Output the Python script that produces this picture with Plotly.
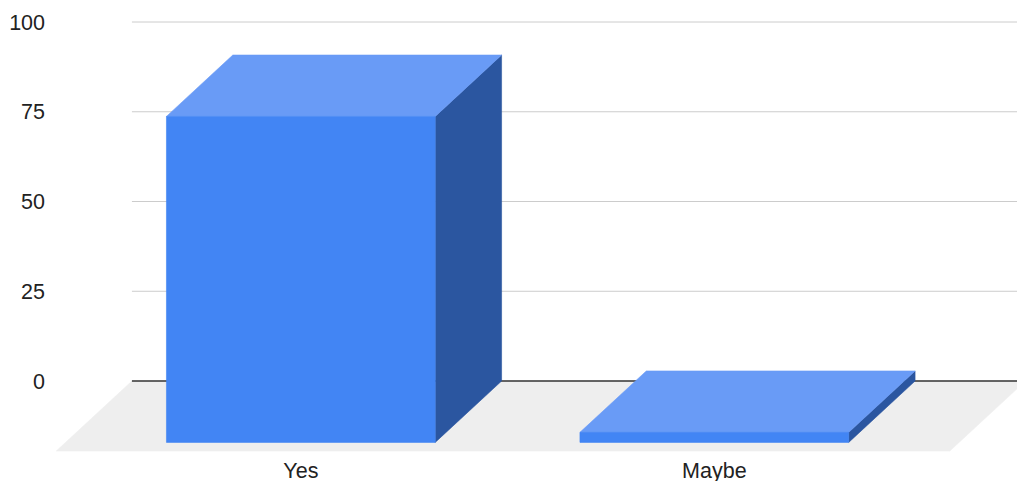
import plotly.graph_objects as go

# Survey answers
categories = ["Yes", "Maybe"]
values = [90.8, 2.8]
y_ticks = [0, 25, 50, 75, 100]

# Colours of the three visible faces and of the floor
FRONT = "#4285F4"
TOP = "#699BF6"
SIDE = "#2B56A0"
FLOOR = "#EEEEEE"
GRID = "#CCCCCC"
BASE = "#333333"
TEXT = "#222222"
FONT = "Liberation Sans, Arial, sans-serif"

# Oblique projection: a point at depth d (0 = back wall, 1 = front of floor)
# is shifted left by d*DX category units and down by d*DY value units.
DX = 0.183
DY = 19.5
BAR_DEPTH = 0.877      # bars stand on the back part of the floor
BAR_WIDTH = 0.65
WALL_LEFT, WALL_RIGHT = -0.569, 1.592

MARGIN_L = 46
X_RANGE = [-0.568 - (132.3 - MARGIN_L) / 413.3, 1.5715]
Y_RANGE = [-20.61, 106.13]


def proj(x, v, d):
    return x - d * DX, v - d * DY


def polygon(points, color):
    xs = [p[0] for p in points] + [points[0][0]]
    ys = [p[1] for p in points] + [points[0][1]]
    return go.Scatter(x=xs, y=ys, mode="lines", fill="toself", fillcolor=color,
                      line=dict(width=0.6, color=color), hoverinfo="skip",
                      showlegend=False)


fig = go.Figure()

# floor
fig.add_trace(polygon([proj(WALL_LEFT, 0, 0), proj(WALL_RIGHT, 0, 0),
                       proj(WALL_RIGHT, 0, 1), proj(WALL_LEFT, 0, 1)], FLOOR))

# horizontal grid on the back wall
for t in y_ticks:
    fig.add_trace(go.Scatter(x=[WALL_LEFT, WALL_RIGHT + 0.1], y=[t, t], mode="lines",
                             line=dict(color=BASE if t == 0 else GRID,
                                       width=1.4 if t == 0 else 1),
                             hoverinfo="skip", showlegend=False))

# 3D bars: right side, top, front
f = BAR_DEPTH
for i, v in enumerate(values):
    xl, xr = i - BAR_WIDTH / 2, i + BAR_WIDTH / 2
    fig.add_trace(polygon([proj(xr, 0, f), proj(xr, 0, 0),
                           proj(xr, v, 0), proj(xr, v, f)], SIDE))
    fig.add_trace(polygon([proj(xl, v, f), proj(xr, v, f),
                           proj(xr, v, 0), proj(xl, v, 0)], TOP))
    fig.add_trace(polygon([proj(xl, 0, f), proj(xr, 0, f),
                           proj(xr, v, f), proj(xl, v, f)], FRONT))

front_centres = [proj(i, 0, f)[0] for i in range(len(categories))]

fig.update_layout(
    width=1017, height=481,
    margin=dict(l=MARGIN_L, r=0, t=0, b=26),
    paper_bgcolor="white", plot_bgcolor="white",
    font=dict(family=FONT, size=21.5, color=TEXT),
    xaxis=dict(range=X_RANGE, tickvals=front_centres, ticktext=categories,
               showgrid=False, zeroline=False, showline=False, ticks="",
               automargin=False, fixedrange=True),
    yaxis=dict(range=Y_RANGE, tickvals=y_ticks, showgrid=False, zeroline=False,
               showline=False, ticks="", automargin=False, fixedrange=True),
)

fig.write_html("out.html")
